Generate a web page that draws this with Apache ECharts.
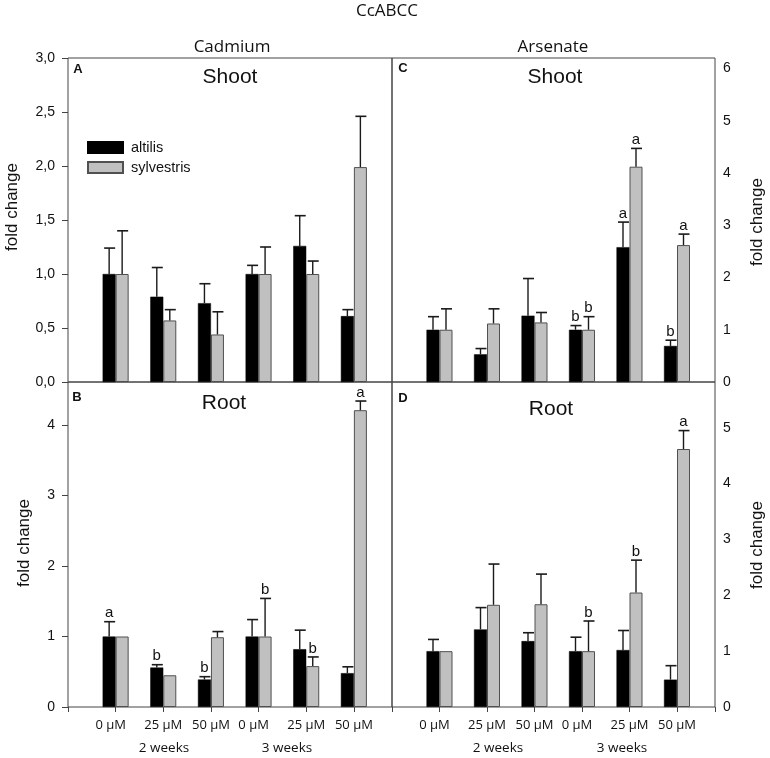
<!DOCTYPE html>
<html>
<head>
<meta charset="utf-8">
<script src="https://cdn.jsdelivr.net/npm/echarts@6/dist/echarts.min.js"></script>
<style>html,body{margin:0;padding:0;background:#fff}#c{width:770px;height:758px}</style>
</head>
<body>
<div id="c"></div>
<script>
// ---- data ----
const concentrations = ['0 µM', '25 µM', '50 µM', '0 µM', '25 µM', '50 µM'];
const weekLabels = ['2 weeks', '3 weeks'];
const seriesNames = ['altilis', 'sylvestris'];

// Panel A: Cadmium, Shoot
const A_altilis = [1.00, 0.79, 0.73, 1.00, 1.26, 0.61];
const A_altilis_se = [0.24, 0.27, 0.18, 0.08, 0.28, 0.06];
const A_sylvestris = [1.00, 0.57, 0.44, 1.00, 1.00, 1.99];
const A_sylvestris_se = [0.40, 0.10, 0.21, 0.25, 0.12, 0.47];
const A_altilis_letters = ['', '', '', '', '', ''];
const A_sylvestris_letters = ['', '', '', '', '', ''];

// Panel B: Cadmium, Root
const B_altilis = [1.00, 0.56, 0.39, 1.00, 0.82, 0.48];
const B_altilis_se = [0.21, 0.04, 0.04, 0.24, 0.27, 0.09];
const B_sylvestris = [1.00, 0.45, 0.99, 1.00, 0.58, 4.21];
const B_sylvestris_se = [0.00, 0.00, 0.08, 0.54, 0.13, 0.13];
const B_altilis_letters = ['a', 'b', 'b', '', '', ''];
const B_sylvestris_letters = ['', '', '', 'b', 'b', 'a'];

// Panel C: Arsenate, Shoot
const C_altilis = [1.00, 0.53, 1.27, 1.00, 2.58, 0.69];
const C_altilis_se = [0.25, 0.11, 0.71, 0.08, 0.48, 0.11];
const C_sylvestris = [1.00, 1.12, 1.14, 1.00, 4.12, 2.62];
const C_sylvestris_se = [0.40, 0.28, 0.19, 0.25, 0.35, 0.21];
const C_altilis_letters = ['', '', '', 'b', 'a', 'b'];
const C_sylvestris_letters = ['', '', '', 'b', 'a', 'a'];

// Panel D: Arsenate, Root
const D_altilis = [1.00, 1.39, 1.18, 1.00, 1.02, 0.49];
const D_altilis_se = [0.21, 0.39, 0.15, 0.25, 0.35, 0.25];
const D_sylvestris = [1.00, 1.83, 1.84, 1.00, 2.05, 4.62];
const D_sylvestris_se = [0.00, 0.73, 0.54, 0.54, 0.58, 0.33];
const D_altilis_letters = ['', '', '', '', '', ''];
const D_sylvestris_letters = ['', '', '', 'b', 'b', 'a'];

// ---- styling / layout ----
const BAR_W = 13;
const FRAME = '#444';
const ARIAL = 'Liberation Sans, Arial, sans-serif';
const CAL = 'Open Sans, Carlito, sans-serif';

const chart = echarts.init(document.getElementById('c'), null, {renderer: 'canvas'});

const grids = [
  {left: 68, top: 58, width: 324, height: 324},
  {left: 68, top: 382, width: 324, height: 325},
  {left: 392, top: 58, width: 323, height: 324},
  {left: 392, top: 382, width: 323, height: 325}
].map(g => Object.assign(g, {show: true, borderColor: FRAME, borderWidth: 1, backgroundColor: 'transparent', containLabel: false}));

const bottomRow = [false, true, false, true];
const xAxes = grids.map((g, i) => ({
  type: 'value', gridIndex: i, min: 0, max: 6.8, interval: 1,
  splitLine: {show: false},
  axisLine: {show: false},
  axisTick: {show: bottomRow[i], length: 5, lineStyle: {color: FRAME}},
  axisLabel: {
    show: bottomRow[i], margin: 12, color: '#111', fontFamily: CAL, fontSize: 13,
    showMaxLabel: true, showMinLabel: true,
    formatter: v => {
      const k = Math.round(v);
      if (Math.abs(v - k) > 1e-6 || k < 1 || k > 6) return '';
      const t = concentrations[k - 1];
      return (k === 1 || k === 4) ? '{s|' + t + '}' : t;
    },
    rich: {s: {fontFamily: CAL, fontSize: 13, color: '#111', padding: [0, 10, 0, 0]}}
  }
}));

const yLabelBase = {color: '#111', fontFamily: ARIAL, fontSize: 14};
const yAxes = [
  {gridIndex: 0, type: 'value', min: 0, max: 3, interval: 0.5, position: 'left',
   axisLine: {show: false}, splitLine: {show: false},
   axisTick: {show: true, length: 6, lineStyle: {color: FRAME}},
   axisLabel: Object.assign({margin: 13, formatter: v => v.toFixed(1).replace('.', ',')}, yLabelBase)},
  {gridIndex: 1, type: 'value', min: 0, max: 4.61, interval: 1, position: 'left',
   axisLine: {show: false}, splitLine: {show: false},
   axisTick: {show: true, length: 6, lineStyle: {color: FRAME}},
   axisLabel: Object.assign({margin: 13, showMaxLabel: false}, yLabelBase)},
  {gridIndex: 2, type: 'value', min: 0, max: 6.2, interval: 1, position: 'right',
   axisLine: {show: false}, splitLine: {show: false}, axisTick: {show: false},
   axisLabel: Object.assign({margin: 8, showMaxLabel: false}, yLabelBase)},
  {gridIndex: 3, type: 'value', min: 0, max: 5.82, interval: 1, position: 'right',
   axisLine: {show: false}, splitLine: {show: false}, axisTick: {show: false},
   axisLabel: Object.assign({margin: 8, showMaxLabel: false}, yLabelBase)}
];

const panels = [
  [A_altilis, A_altilis_se, A_altilis_letters, A_sylvestris, A_sylvestris_se, A_sylvestris_letters],
  [B_altilis, B_altilis_se, B_altilis_letters, B_sylvestris, B_sylvestris_se, B_sylvestris_letters],
  [C_altilis, C_altilis_se, C_altilis_letters, C_sylvestris, C_sylvestris_se, C_sylvestris_letters],
  [D_altilis, D_altilis_se, D_altilis_letters, D_sylvestris, D_sylvestris_se, D_sylvestris_letters]
];

const barStyles = [
  {color: '#000000', borderColor: '#000000', borderWidth: 0.5},
  {color: '#c0c0c0', borderColor: '#505050', borderWidth: 1}
];

function errSeries(gi, means, ses, letters, side) {
  return {
    type: 'custom', xAxisIndex: gi, yAxisIndex: gi, z: 5, silent: true,
    data: means.map((m, i) => [i + 1, m, ses[i]]),
    renderItem: (params, api) => {
      const x = api.value(0), m = api.value(1), s = api.value(2);
      const base = api.coord([x, m]);
      const top = api.coord([x, m + s]);
      const cx = base[0] + side * BAR_W / 2;
      const children = [];
      if (s > 0) {
        children.push({type: 'line', shape: {x1: cx, y1: base[1], x2: cx, y2: top[1]},
          style: {stroke: '#1a1a1a', lineWidth: 1.4}});
        children.push({type: 'line', shape: {x1: cx - 5, y1: top[1], x2: cx + 6, y2: top[1]},
          style: {stroke: '#1a1a1a', lineWidth: 1.6}});
      }
      const L = letters[params.dataIndex];
      if (L) {
        children.push({type: 'text', x: cx, y: top[1] - 1,
          style: {text: L, fill: '#111', font: '15px ' + ARIAL, textAlign: 'center', textVerticalAlign: 'bottom'}});
      }
      return {type: 'group', children};
    }
  };
}

const series = [];
panels.forEach((p, gi) => {
  for (let k = 0; k < 2; k++) {
    const means = p[k * 3];
    series.push({
      type: 'bar', name: seriesNames[k], xAxisIndex: gi, yAxisIndex: gi,
      barWidth: BAR_W, barGap: '0%',
      data: means.map((m, i) => [i + 1, m]),
      itemStyle: barStyles[k], z: 2, silent: true
    });
  }
});
panels.forEach((p, gi) => {
  series.push(errSeries(gi, p[0], p[1], p[2], -1));
  series.push(errSeries(gi, p[3], p[4], p[5], 1));
});

function txt(x, y, text, font, rot) {
  return {type: 'text', x, y, rotation: rot || 0,
    style: {text, font, fill: '#111', textAlign: 'center', textVerticalAlign: 'middle'}};
}

const graphic = [
  txt(387, 11, 'CcABCC', '17px ' + CAL),
  txt(232, 47, 'Cadmium', '17px ' + CAL),
  txt(553, 47, 'Arsenate', '17px ' + CAL),
  txt(230, 77, 'Shoot', '21px ' + ARIAL),
  txt(555, 77, 'Shoot', '21px ' + ARIAL),
  txt(224, 403, 'Root', '21px ' + ARIAL),
  txt(551, 409, 'Root', '21px ' + ARIAL),
  txt(78, 69, 'A', 'bold 13px ' + ARIAL),
  txt(77, 397, 'B', 'bold 13px ' + ARIAL),
  txt(403, 68, 'C', 'bold 13px ' + ARIAL),
  txt(403, 398, 'D', 'bold 13px ' + ARIAL),
  txt(12, 207, 'fold change', '17px ' + ARIAL, Math.PI / 2),
  txt(24, 543, 'fold change', '17px ' + ARIAL, Math.PI / 2),
  txt(757, 222, 'fold change', '17px ' + ARIAL, Math.PI / 2),
  txt(757, 545, 'fold change', '17px ' + ARIAL, Math.PI / 2),
  txt(164, 748, weekLabels[0], '13.5px ' + CAL),
  txt(287, 748, weekLabels[1], '13.5px ' + CAL),
  txt(498, 748, weekLabels[0], '13.5px ' + CAL),
  txt(622, 748, weekLabels[1], '13.5px ' + CAL)
];

chart.setOption({
  animation: false,
  backgroundColor: '#ffffff',
  grid: grids,
  xAxis: xAxes,
  yAxis: yAxes,
  legend: {
    data: seriesNames, orient: 'vertical', left: 87, top: 140, padding: 0,
    itemWidth: 35, itemHeight: 11, itemGap: 5, icon: 'rect', selectedMode: false,
    textStyle: {fontFamily: ARIAL, fontSize: 14.5, color: '#111', lineHeight: 14, padding: [0, 0, 0, 3]}
  },
  series,
  graphic
});
</script>
</body>
</html>
